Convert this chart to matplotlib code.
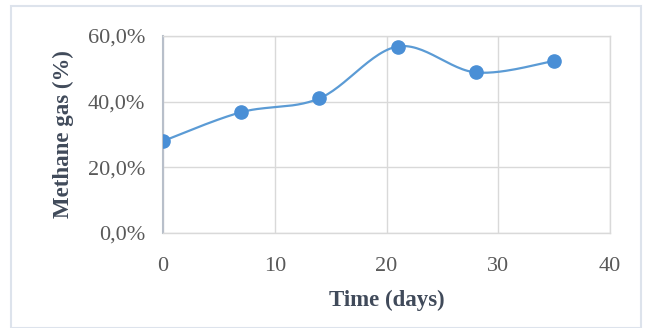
import numpy as np
import matplotlib
matplotlib.use("Agg")
import matplotlib.pyplot as plt
from matplotlib.patches import Rectangle
from matplotlib.ticker import FuncFormatter

# Methane content of the biogas over the digestion period
days = [0, 7, 14, 21, 28, 35]
methane_pct = [28.0, 36.8, 41.0, 56.8, 48.9, 52.4]

x_ticks = [0, 10, 20, 30, 40]
y_ticks = [0, 20, 40, 60]

LINE = "#5b9bd5"
MARK = "#4a8fd6"
GRID = "#d9d9d9"
TICK_TXT = "#595959"
LABEL_TXT = "#404a5a"


def smooth_curve(x, y, n=30):
    """Bezier spline through the points, Catmull-Rom style tangents."""
    x = np.asarray(x, float)
    y = np.asarray(y, float)
    px = np.concatenate([[x[0]], x, [x[-1]]])
    py = np.concatenate([[y[0]], y, [y[-1]]])
    xs, ys = [], []
    t = np.linspace(0, 1, n)
    for i in range(1, len(px) - 2):
        p0 = np.array([px[i], py[i]])
        p3 = np.array([px[i + 1], py[i + 1]])
        c1 = p0 + (np.array([px[i + 1], py[i + 1]]) - np.array([px[i - 1], py[i - 1]])) / 6
        c2 = p3 - (np.array([px[i + 2], py[i + 2]]) - np.array([px[i], py[i]])) / 6
        b = ((1 - t) ** 3)[:, None] * p0 + (3 * (1 - t) ** 2 * t)[:, None] * c1 \
            + (3 * (1 - t) * t ** 2)[:, None] * c2 + (t ** 3)[:, None] * p3
        xs.append(b[:, 0])
        ys.append(b[:, 1])
    return np.concatenate(xs), np.concatenate(ys)


plt.rcParams["font.family"] = ["Liberation Serif", "DejaVu Serif"]

fig = plt.figure(figsize=(6.54, 3.28), dpi=100)
fig.patches.append(Rectangle((11 / 654, 0.0), 630 / 654, 1 - 6 / 328,
                             transform=fig.transFigure, fill=False,
                             edgecolor="#dde3ec", linewidth=1.5))

ax = fig.add_axes([163 / 654, 1 - 233 / 328, 447 / 654, 197 / 328])

sx, sy = smooth_curve(days, methane_pct)
ax.plot(sx, sy, color=LINE, linewidth=1.6, zorder=3, solid_capstyle="round")
ax.plot(days, methane_pct, linestyle="none", marker="o", markersize=9.5,
        color=MARK, zorder=4)

ax.set_xlim(0, 40)
ax.set_ylim(0, 60)
ax.set_xticks(x_ticks)
ax.set_yticks(y_ticks)
ax.yaxis.set_major_formatter(FuncFormatter(lambda v, _: f"{v:.1f}%".replace(".", ",")))

ax.grid(True, color=GRID, linewidth=1.0)
ax.set_axisbelow(True)
for side in ("top", "right", "bottom"):
    ax.spines[side].set_color(GRID)
    ax.spines[side].set_linewidth(1.0)
ax.spines["left"].set_color("#b8bfca")
ax.spines["left"].set_linewidth(1.5)

ax.tick_params(axis="both", length=0, labelsize=16, colors=TICK_TXT)
ax.tick_params(axis="y", pad=13)
ax.tick_params(axis="x", pad=17)

ax.set_xlabel("Time (days)", fontsize=16.5, fontweight="bold", color=LABEL_TXT, labelpad=10)
ax.set_ylabel("Methane gas (%)", fontsize=16.5, fontweight="bold", color=LABEL_TXT, labelpad=10)

fig.savefig("out.png", dpi=100, facecolor="white")
